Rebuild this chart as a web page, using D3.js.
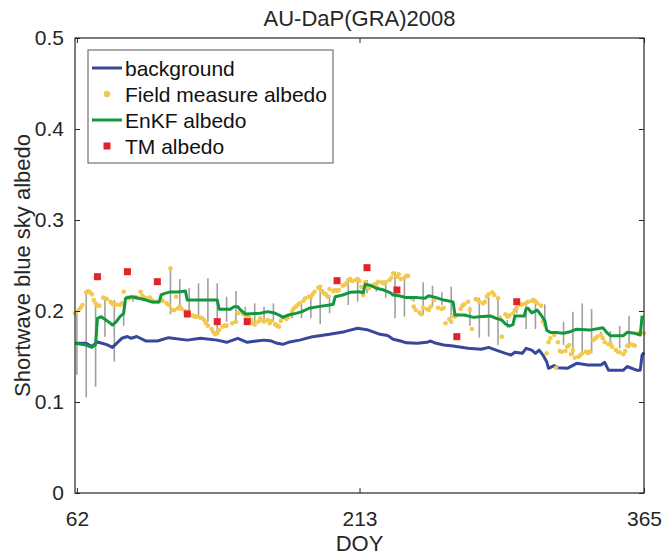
<!DOCTYPE html>
<html>
<head>
<meta charset="utf-8">
<script src="https://cdn.jsdelivr.net/npm/d3@7"></script>
<style>
  body { margin: 0; background: #fff; }
  svg { display: block; font-family: "Liberation Sans", Arial, Helvetica, sans-serif; }
</style>
</head>
<body>
<svg id="chart" width="663" height="555"></svg>
<script>
// ---- Data: AU-DaP grassland site, 2008, shortwave blue-sky albedo ----

// Model background albedo
const bgDoy = [61,67,70,73,78,81,86,89,91,94,99,105,111,121,128,137,142,148,153,158,
  162,166,169,172,175,181,188,197,205,212,217,224,228,231,235,238,244,249,251,254,
  258,263,271,278,282,286,291,294,296,300,302,305,307,309,311,313,314,317,319,324,
  329,335,342,344,346,354,356,361,363,364,365];
const bgVal = [.1645,.1645,.161,.166,.163,.160,.170,.172,.170,.172,.167,.167,.1707,.168,.170,.168,.1656,.170,.1656,.167,
  .168,.167,.1645,.1634,.1656,.168,.1718,.1744,.1773,.181,.1795,.1744,.173,.169,.167,.165,.1645,.1656,.167,.1645,
  .1626,.1615,.159,.158,.160,.157,.1535,.1516,.1546,.1535,.159,.157,.1535,.157,.1516,.1443,.137,.140,.1377,.137,
  .1425,.1407,.1407,.1436,.135,.135,.139,.135,.135,.1516,.1546];

// EnKF assimilated albedo
const enkfDoy = [61,67,70,72,73,75,79,81,83,85,87,88,91,95,99,102,106,107,109,112,
  116,120,121,137,138,144,146,148,149,152,160,164,168,170,172,175,179,182,186,191,
  197,199,200,204,208,213,215,216,219,222,226,229,231,234,238,244,248,250,254,258,
  263,264,269,274,277,283,286,289,291,293,295,296,301,302,303,305,308,310,312,313,
  315,318,322,326,329,336,343,345,347,354,356,360,363,364];
const enkfVal = [.1645,.1626,.160,.163,.192,.1937,.188,.1846,.188,.1937,.1975,.214,.2157,.214,.212,.210,.210,.2176,.2194,.221,
  .221,.222,.212,.212,.202,.202,.2048,.2048,.202,.1967,.1975,.1993,.1975,.1956,.193,.1956,.1974,.199,.203,.2048,
  .2066,.2075,.2157,.2176,.2205,.2212,.220,.2293,.228,.225,.223,.2205,.2176,.2168,.2147,.2147,.2140,.2168,.2147,.212,
  .210,.1956,.1956,.193,.1938,.1945,.192,.190,.1857,.1835,.185,.1945,.1945,.2025,.203,.198,.201,.1956,.1894,.179,
  .1764,.1764,.1755,.1775,.180,.179,.1817,.1766,.1729,.1729,.1766,.1755,.1736,.195];

// Field measured albedo (daily)
const fieldDoy = [61,63,64,65,67,68,69,70,71,72,73,74,76,77,78,80,81,82,83,85,86,87,89,90,91,93,94,96,97,98,99,101,102,103,105,107,108,110,111,112,
  113,114,115,116,117,118,120,121,122,124,125,126,128,129,130,131,132,134,135,136,137,138,140,141,142,145,147,148,150,151,153,154,155,156,157,159,160,161,
  162,164,165,166,168,169,170,171,173,174,175,177,178,179,180,181,183,184,186,187,188,189,191,192,193,194,195,196,197,199,200,201,202,204,205,206,207,208,209,211,212,213,
  214,215,216,217,218,220,221,222,223,225,226,227,229,230,231,233,234,235,237,238,239,241,242,243,245,246,247,249,250,251,253,255,257,258,259,261,262,263,
  264,265,267,268,269,271,272,273,275,276,277,279,280,281,282,284,285,287,288,289,291,292,293,295,296,297,299,300,302,303,305,306,307,308,310,311,312,313,314,
  315,317,318,319,320,321,323,324,325,326,327,328,330,331,332,334,335,336,338,339,340,342,343,344,346,347,348,350,351,352,354,355,356,358,359,360,362,363,365];
const fieldVal = [.1975,.2011,.2036,.2066,.2205,.2220,.2205,.2183,.2121,.2084,.2059,.2059,.2147,.2139,.2132,.2102,.2081,.2066,.2073,.2066,.2084,.2212,.2147,.2139,.2147,.2157,.2147,.2212,.2168,.2147,.2139,.2147,.2121,.2102,.2102,.2132,.2110,.2084,.2066,.2469,
  .2011,.2011,.2157,.2029,.2048,.2022,.2000,.1985,.1964,.1949,.1938,.1938,.1927,.1920,.1901,.1865,.1839,.1802,.1766,.1744,.1755,.1791,.1828,.1839,.1839,.1865,.1883,.1975,.1985,.1964,.1938,.1927,.1901,.1865,.1853,.1883,.1920,.1901,
  .1883,.1901,.1865,.1890,.1853,.1839,.1828,.1890,.1927,.1912,.1938,.1993,.2030,.2048,.2066,.2084,.2110,.2139,.2157,.2157,.2183,.2212,.2256,.2267,.2220,.2194,.2183,.2157,.2242,.2220,.2231,.2220,.2231,.2278,.2286,.2304,.2341,.2352,.2330,.2341,.2352,.2330,
  .2267,.2176,.2315,.2278,.2249,.2278,.2293,.2278,.2322,.2315,.2304,.2315,.2341,.2366,.2414,.2377,.2403,.2352,.2366,.2388,.2388,.2139,.2048,.2011,.1985,.1964,.2036,.2022,.2011,.2048,.2121,.2036,.2022,.2036,.1865,.1912,.1883,.1949,
  .1938,.1956,.2022,.2059,.2073,.2102,.2011,.1802,.2132,.2121,.2102,.2084,.2102,.2157,.2183,.2205,.2176,.2139,.1927,.1718,.1964,.1938,.1949,.1975,.2011,.2036,.2066,.2073,.2084,.2102,.2110,.2121,.2102,.2084,.2059,.1883,.1846,.1535,.1656,
  .1700,.1736,.1377,.1656,.1560,.1553,.1560,.1608,.1626,.1524,.1571,.1487,.1498,.1516,.1535,.1553,.1535,.1553,.1681,.1700,.1718,.1736,.1700,.1656,.1634,.1645,.1608,.1571,.1553,.1546,.1524,.1560,.1619,.1634,.1626,.1619,.1755,.1766,.1755];

// Field measurement spread (min / max of the 5-day window)
const barDoy = [62,67,72,77,82,87,92,112,117,122,127,132,137,142,147,152,157,162,167,177,182,187,192,197,
  207,212,217,222,227,232,237,242,247,252,257,262,272,277,282,287,292,297,302,307,312,322,327,332,337,342,347,352,357];
const barHigh = [.199,.221,.2066,.214,.212,.2102,.2176,.2469,.2352,.225,.2304,.236,.2304,.2157,.222,.2048,.2084,.2048,.2084,.203,.2084,.2157,.225,.2176,
  .234,.234,.234,.2322,.2293,.2432,.2366,.2157,.2315,.2278,.2205,.2267,.2048,.2146,.2157,.2157,.190,.203,.2102,.2132,.2073,.1882,.1992,.2084,.2022,.1772,.178,.1838,.1948];
const barLow = [.130,.105,.1168,.1718,.1443,.1838,.2102,.1964,.2066,.1937,.1937,.1882,.1736,.1882,.1865,.1882,.1846,.1882,.1882,.192,.192,.192,.1854,.1975,
  .2066,.2102,.2194,.2212,.2146,.192,.1937,.2102,.1956,.2047,.2066,.192,.1838,.1707,.1718,.1626,.1816,.1975,.1802,.1802,.1865,.1626,.1516,.1516,.1535,.1718,.1656,.159,.159];

// Landsat TM albedo retrievals
const tmDoy = [73,89,105,121,137,153,201,217,233,265,297];
const tmVal = [.2377,.2432,.2322,.1967,.1883,.1883,.2333,.2476,.2231,.1718,.2102];

// Axis ticks and labels
const xTicks = [62, 213, 365];
const yTicks = [0, 0.1, 0.2, 0.3, 0.4, 0.5];
const titleText = "AU-DaP(GRA)2008";
const xLabel = "DOY";
const yLabel = "Shortwave blue sky albedo";
const legendLabels = ["background", "Field measure albedo", "EnKF albedo", "TM albedo"];

// ---- Layout ----
const W = 663, H = 555;
const plot = { left: 75, right: 644, top: 38, bottom: 493 };
const axisColor = "#262626";
const colors = { bg: "#36479c", field: "#f3c94e", enkf: "#12973f", tm: "#e2232a", bar: "#a0a0a0" };

const svg = d3.select("#chart");
const x = d3.scaleLinear().domain([61, 365]).range([plot.left, plot.right]);
const y = d3.scaleLinear().domain([0, 0.5]).range([plot.bottom, plot.top]);

const zip = (a, b) => a.map((d, i) => [d, b[i]]);
const line = d3.line().x(d => x(d[0])).y(d => y(d[1]));

// Plot background
svg.append("rect")
  .attr("x", plot.left).attr("y", plot.top)
  .attr("width", plot.right - plot.left).attr("height", plot.bottom - plot.top)
  .attr("fill", "#fff");

const marks = svg.append("g");

// Spread bars
marks.append("g").selectAll("line").data(barDoy).join("line")
  .attr("x1", d => x(d)).attr("x2", d => x(d))
  .attr("y1", (d, i) => y(barHigh[i])).attr("y2", (d, i) => y(barLow[i]))
  .attr("stroke", colors.bar).attr("stroke-width", 1.6);

// Background line
marks.append("path").datum(zip(bgDoy, bgVal))
  .attr("d", line).attr("fill", "none")
  .attr("stroke", colors.bg).attr("stroke-width", 3).attr("stroke-linejoin", "round");

// Field dots
marks.append("g").selectAll("circle").data(zip(fieldDoy, fieldVal)).join("circle")
  .attr("cx", d => x(d[0])).attr("cy", d => y(d[1])).attr("r", 2.3)
  .attr("fill", colors.field);

// EnKF line
marks.append("path").datum(zip(enkfDoy, enkfVal))
  .attr("d", line).attr("fill", "none")
  .attr("stroke", colors.enkf).attr("stroke-width", 3).attr("stroke-linejoin", "round");

// TM squares
const sq = 7;
marks.append("g").selectAll("rect").data(zip(tmDoy, tmVal)).join("rect")
  .attr("x", d => x(d[0]) - sq / 2).attr("y", d => y(d[1]) - sq / 2)
  .attr("width", sq).attr("height", sq)
  .attr("fill", colors.tm);

// Axes
function styleAxis(g) {
  g.select(".domain").remove();
  g.selectAll(".tick line").attr("stroke", axisColor);
  g.selectAll(".tick text").attr("fill", axisColor).attr("font-size", 21)
    .attr("font-family", "Liberation Sans, Arial, sans-serif");
}
svg.append("g").attr("transform", `translate(${plot.left},0)`)
  .call(d3.axisLeft(y).tickValues(yTicks).tickFormat(d3.format("~g")).tickSizeInner(-5).tickSizeOuter(0).tickPadding(11))
  .call(styleAxis);
svg.append("g").attr("transform", `translate(${plot.right},0)`)
  .call(d3.axisRight(y).tickValues(yTicks).tickFormat("").tickSizeInner(-5).tickSizeOuter(0))
  .call(styleAxis);
svg.append("g").attr("transform", `translate(0,${plot.bottom})`)
  .call(d3.axisBottom(x).tickValues(xTicks).tickFormat(d3.format("d")).tickSizeInner(-5).tickSizeOuter(0).tickPadding(18))
  .call(styleAxis);
svg.append("g").attr("transform", `translate(0,${plot.top})`)
  .call(d3.axisTop(x).tickValues(xTicks).tickFormat("").tickSizeInner(-5).tickSizeOuter(0))
  .call(styleAxis);

svg.append("rect")
  .attr("x", plot.left).attr("y", plot.top)
  .attr("width", plot.right - plot.left).attr("height", plot.bottom - plot.top)
  .attr("fill", "none").attr("stroke", axisColor).attr("stroke-width", 1.2);

// Title and axis labels
svg.append("text").attr("x", (plot.left + plot.right) / 2).attr("y", 18)
  .attr("text-anchor", "middle").attr("dominant-baseline", "central")
  .attr("font-size", 22).attr("fill", axisColor).text(titleText);
svg.append("text").attr("x", (plot.left + plot.right) / 2).attr("y", 543)
  .attr("text-anchor", "middle").attr("dominant-baseline", "central")
  .attr("font-size", 22).attr("fill", axisColor).text(xLabel);
svg.append("text")
  .attr("transform", `translate(22,${(plot.top + plot.bottom) / 2}) rotate(-90)`)
  .attr("text-anchor", "middle").attr("dominant-baseline", "central")
  .attr("font-size", 22).attr("fill", axisColor).text(yLabel);

// Legend
const leg = svg.append("g");
const lg = { x: 88, y: 50, w: 245, h: 113, row0: 68, rowStep: 26 };
leg.append("rect").attr("x", lg.x).attr("y", lg.y).attr("width", lg.w).attr("height", lg.h)
  .attr("fill", "#fff").attr("stroke", "#555").attr("stroke-width", 1);
legendLabels.forEach((label, i) => {
  const cy = lg.row0 + i * lg.rowStep;
  const g = leg.append("g");
  if (i === 0 || i === 2) {
    g.append("line").attr("x1", 92).attr("x2", 122).attr("y1", cy).attr("y2", cy)
      .attr("stroke", i === 0 ? colors.bg : colors.enkf).attr("stroke-width", 3);
  } else if (i === 1) {
    g.append("circle").attr("cx", 107).attr("cy", cy).attr("r", 3.2).attr("fill", colors.field);
  } else {
    g.append("rect").attr("x", 107 - 3.5).attr("y", cy - 3.5).attr("width", 7).attr("height", 7)
      .attr("fill", colors.tm);
  }
  g.append("text").attr("x", 125).attr("y", cy).attr("dominant-baseline", "central")
    .attr("font-size", 21).attr("fill", "#111").text(label);
});
</script>
</body>
</html>
